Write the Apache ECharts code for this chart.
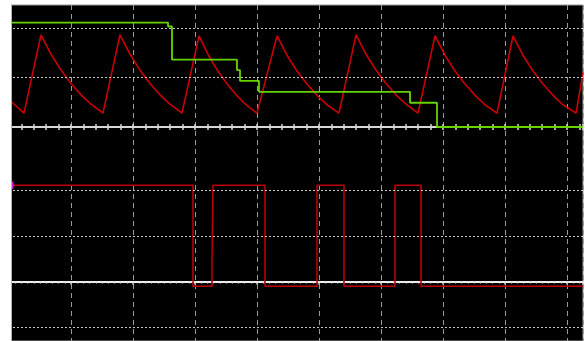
<!DOCTYPE html>
<html>
<head>
<meta charset="utf-8">
<script src="https://cdn.jsdelivr.net/npm/echarts@6/dist/echarts.min.js"></script>
<style>
html,body{margin:0;padding:0;background:#fff;}
#chart{width:585px;height:341px;}
</style>
</head>
<body>
<div id="chart"></div>
<script>
// time in divisions (1 div per grid column)
var sawTime = [0.048, 0.242,
  0.516, 0.677, 0.839, 1.000, 1.161, 1.323, 1.516,
  1.790, 1.952, 2.113, 2.274, 2.435, 2.597, 2.790,
  3.065, 3.216, 3.368, 3.519, 3.671, 3.823, 4.000,
  4.323, 4.484, 4.645, 4.806, 4.968, 5.129, 5.323,
  5.597, 5.758, 5.919, 6.081, 6.242, 6.403, 6.597,
  6.871, 7.032, 7.194, 7.355, 7.516, 7.677, 7.871,
  8.129, 8.290, 8.452, 8.613, 8.774, 8.935, 9.145,
  9.258];
var sawValue = [0.50, 0.28,
  1.86, 1.47, 1.15, 0.88, 0.65, 0.46, 0.28,
  1.86, 1.47, 1.15, 0.88, 0.65, 0.46, 0.28,
  1.84, 1.45, 1.13, 0.87, 0.64, 0.45, 0.28,
  1.84, 1.45, 1.13, 0.87, 0.64, 0.45, 0.28,
  1.86, 1.47, 1.15, 0.88, 0.65, 0.46, 0.28,
  1.84, 1.45, 1.13, 0.87, 0.64, 0.45, 0.28,
  1.84, 1.45, 1.13, 0.87, 0.64, 0.45, 0.28,
  1.10];

// green stepped trace (level holds until next time)
var stepTime  = [0.048, 2.565, 2.629, 3.677, 3.726, 4.032, 6.468, 6.903, 9.258];
var stepValue = [2.11,  2.03,  1.36,  1.15,  0.93,  0.71,  0.49,  0.00,  0.00];

// bottom square wave (level holds until next time)
var sqTime  = [0.048, 2.968, 3.274, 3.290, 4.129, 4.968, 5.403, 6.226, 6.645, 9.258];
var sqValue = [2.107, -0.103, 0.40, 2.107, -0.103, 2.107, -0.103, 2.107, -0.103, -0.103];

var topGridLevels = [1, 2];
var bottomGridLevels = [2, 1, -1];

function pairs(t, v){ return t.map(function(x,i){ return [x, v[i]]; }); }

var xCommon = {type:'value', min:0, max:9.258, interval:1, gridIndex:0,
  axisLabel:{show:false}};
var dotted = {color:'#c8c8c8', type:[2,2], width:1};

var option = {
  animation:false,
  backgroundColor:'#fff',
  grid:[{left:9, right:2, top:5, bottom:0, show:true, backgroundColor:'#000', borderColor:'#9a9a9a', borderWidth:1}],
  xAxis:[
    Object.assign({}, xCommon, {axisLine:{show:false}, axisTick:{show:false},
      splitLine:{show:true, lineStyle:{color:'#9a9a9a', type:[5,4], width:1}}}),
    Object.assign({}, xCommon, {axisLine:{show:true, onZero:true, onZeroAxisIndex:0, lineStyle:{color:'#d8d8d8', width:2}},
      axisTick:{show:true, inside:true, length:3, lineStyle:{color:'#d8d8d8', width:1.5}},
      minorTick:{show:true, splitNumber:5, length:3, lineStyle:{color:'#d8d8d8', width:1.5}},
      splitLine:{show:false}}),
    Object.assign({}, xCommon, {axisLine:{show:true, onZero:true, onZeroAxisIndex:0, lineStyle:{color:'#d8d8d8', width:2}},
      axisTick:{show:true, inside:false, length:3, lineStyle:{color:'#d8d8d8', width:1.5}},
      minorTick:{show:true, splitNumber:5, length:3, lineStyle:{color:'#d8d8d8', width:1.5}},
      splitLine:{show:false}}),
    Object.assign({}, xCommon, {position:'bottom', axisLine:{show:true, onZero:true, onZeroAxisIndex:1, lineStyle:{color:'#eeeeee', width:2}},
      axisTick:{show:true, inside:false, length:3, lineStyle:{color:'#e0e0e0', width:1.5}},
      minorTick:{show:true, splitNumber:10, length:2, lineStyle:{color:'#d8d8d8', width:1.2}},
      splitLine:{show:false}})
  ],
  yAxis:[
    {type:'value', gridIndex:0, min:-4.3232, max:2.4646, show:false, splitLine:{show:false}},
    {type:'value', gridIndex:0, min:-1.302, max:6.0503, show:false, splitLine:{show:false}}
  ],
  series:[
    {type:'line', name:'ramp', xAxisIndex:0, yAxisIndex:0, data:pairs(sawTime, sawValue),
      showSymbol:false, lineStyle:{color:'#cc0000', width:1.6}, z:3,
      markLine:{silent:true, symbol:'none', label:{show:false}, lineStyle:dotted,
        data:topGridLevels.map(function(v){return {yAxis:v};})}},
    {type:'line', name:'level', xAxisIndex:0, yAxisIndex:0, data:pairs(stepTime, stepValue), step:'end',
      showSymbol:false, lineStyle:{color:'#66d400', width:1.8}, z:4},
    {type:'line', name:'gate', xAxisIndex:0, yAxisIndex:1, data:pairs(sqTime, sqValue), step:'end',
      showSymbol:false, lineStyle:{color:'#bb0000', width:1.6}, z:3,
      markLine:{silent:true, symbol:'none', label:{show:false}, lineStyle:dotted,
        data:bottomGridLevels.map(function(v){return {yAxis:v};})},
      markPoint:{silent:true, symbol:'rect', symbolSize:[3,7], label:{show:false},
        itemStyle:{color:'#e020e0'}, data:[{coord:[sqTime[0], sqValue[0]]}]}}
  ],
  graphic:[
    {type:'rect', z:100, shape:{x:0, y:0, width:11, height:341}, style:{fill:'#fff'}},
    {type:'line', z:100, shape:{x1:11.5, y1:5, x2:11.5, y2:341}, style:{stroke:'#b0b0b0', lineWidth:1}}
  ]
};
var chart = echarts.init(document.getElementById('chart'), null, {renderer:'canvas'});
chart.setOption(option);
</script>
</body>
</html>
